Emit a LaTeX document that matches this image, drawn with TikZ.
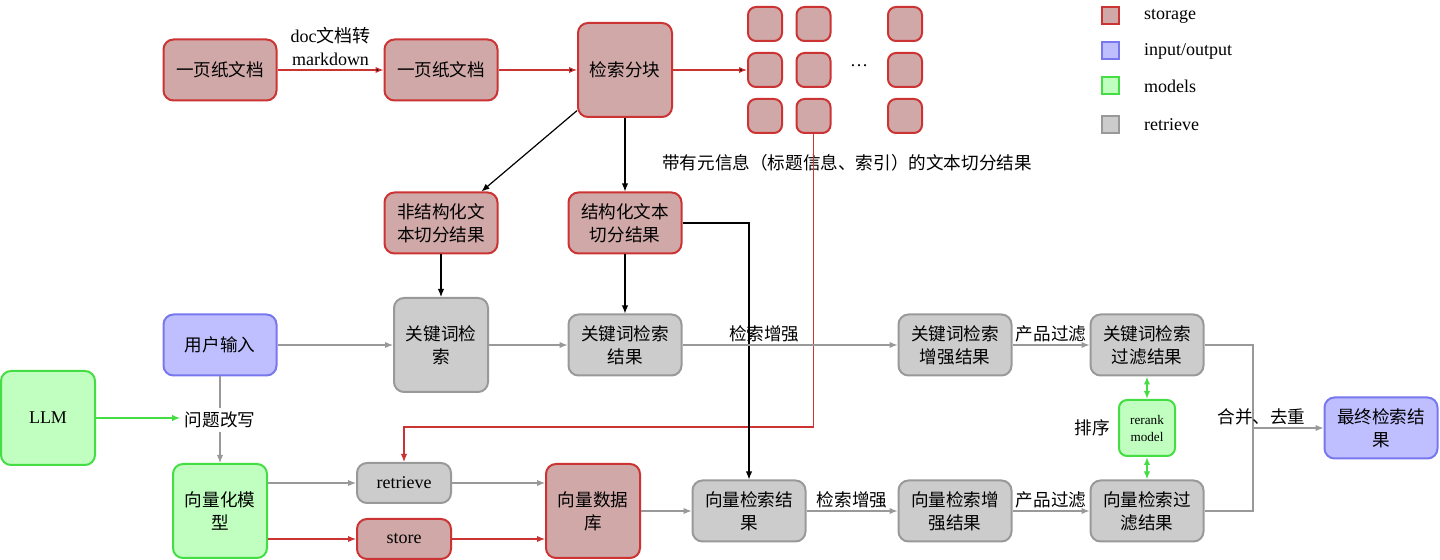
\documentclass[tikz,border=0pt]{standalone}
\usepackage{fontspec}
\setmainfont{Liberation Serif}
\newfontfamily\zh{Noto Sans CJK SC}
\usetikzlibrary{arrows.meta,positioning,calc}
\newcommand\zhfont{\fontsize{8.8}{11.5}\selectfont\zh}
\newcommand\enfont{\fontsize{9}{11.5}\selectfont\rmfamily}
\definecolor{stofill}{RGB}{208,168,168}
\definecolor{stoline}{RGB}{204,51,51}
\definecolor{iofill}{RGB}{191,191,255}
\definecolor{ioline}{RGB}{119,119,238}
\definecolor{mdlfill}{RGB}{192,255,192}
\definecolor{mdlline}{RGB}{68,221,68}
\definecolor{retfill}{RGB}{204,204,204}
\definecolor{retline}{RGB}{153,153,153}
\tikzset{
  box/.style  = { draw, line width=1pt, rounded corners=5pt, align=center, inner sep=1pt, font=\zhfont },
  sto/.style  = { box, draw=stoline, fill=stofill },
  io/.style   = { box, draw=ioline, fill=iofill },
  mdl/.style  = { box, draw=mdlline, fill=mdlfill },
  ret/.style  = { box, draw=retline, fill=retfill },
  wide/.style = { minimum width=56.5pt, minimum height=30.5pt },
  tall/.style = { minimum width=47pt, minimum height=47pt },
  flat/.style = { minimum width=47pt, minimum height=20pt },
  cell/.style = { sto, minimum width=17pt, minimum height=17pt, rounded corners=4pt },
  key/.style  = { draw, line width=1pt, minimum width=8.5pt, minimum height=8.5pt, inner sep=0pt },
  lbl/.style  = { font=\zhfont, inner sep=1pt },
  rline/.style = { draw=stoline, line width=0.6pt },
  gline/.style = { draw=retline, line width=0.6pt },
  bline/.style = { draw=black, line width=0.6pt },
  mline/.style = { draw=mdlline, line width=0.8pt }
}
\begin{document}
\begin{tikzpicture}[x=0.5pt,y=-0.5pt,>={Latex[length=4pt,width=3.2pt]}]
  \useasboundingbox (0,0) rectangle (1440,560);
  % documents and chunks
  \node[sto, wide] (doc1) at (220,70) {一页纸文档};
  \node[sto, wide] (doc2) at (441,70) {一页纸文档};
  \node[sto, tall] (split) at (625,70) {检索分块};
  \foreach \c/\x in {1/765,2/813.5,3/905}
    \foreach \r/\y in {1/24,2/70,3/116}
      \node[cell] (g\c\r) at (\x,\y) {};
  \node[font=\enfont] (dots) at (859,66) {\ldots};
  \node[lbl] (meta) at (847,163) {带有元信息（标题信息、索引）的文本切分结果};
  \node[sto, wide] (unstr) at (441,223) {非结构化文\\本切分结果};
  \node[sto, wide] (struct) at (625,223) {结构化文本\\切分结果};
  % keyword branch
  \node[io, wide] (user) at (220,345) {用户输入};
  \node[ret, tall] (kwsearch) at (441,345) {关键词检\\索};
  \node[ret, wide] (kwres) at (625,345) {关键词检索\\结果};
  \node[ret, wide] (kwenh) at (955,345) {关键词检索\\增强结果};
  \node[ret, wide] (kwfilt) at (1147,345) {关键词检索\\过滤结果};
  % vector branch
  \node[mdl, tall, font=\enfont] (llm) at (48,418) {LLM};
  \node[mdl, tall] (vecmodel) at (220,511) {向量化模\\型};
  \node[ret, flat, font=\enfont] (retrieve) at (404,483) {retrieve};
  \node[sto, flat, font=\enfont] (store) at (404,539) {store};
  \node[sto, tall] (vecdb) at (593,511) {向量数据\\库};
  \node[ret, wide] (vecres) at (749,511) {向量检索结\\果};
  \node[ret, wide] (vecenh) at (955,511) {向量检索增\\强结果};
  \node[ret, wide] (vecfilt) at (1147,511) {向量检索过\\滤结果};
  \node[mdl, minimum width=28pt, minimum height=28pt, rounded corners=4pt,
    font=\fontsize{6.6}{8.5}\selectfont\rmfamily] (rerank) at (1147,428) {rerank\\model};
  \node[lbl, left=3pt of rerank] (sortlbl) {排序};
  \node[io, wide] (final) at (1381,428) {最终检索结\\果};
  \coordinate (rbend) at (813.5,427);
  \coordinate (mrg) at (1253,428);
  % legend
  \foreach \k/\y/\t in {sto/16/storage, io/51/input\slash output, mdl/86/models, ret/125/retrieve} {
    \node[key, draw=\k line, fill=\k fill] (key\k) at (1110,\y) {};
    \node[font=\enfont, anchor=west] (txt\k) at (1137,\y) {\t};
  }
  % connectors
  \path[rline,->] (doc1) edge node[above, font=\enfont, align=center, inner sep=2pt] {doc{\zh 文档转}\\markdown} (doc2);
  \path[rline,->] (doc2) edge (split);
  \path[rline,->] (split) edge (g12);
  \draw[rline,->] (g23.south) -- (rbend) -| (retrieve.north);
  \draw[bline,->] (split) -- ([xshift=-8.5pt]unstr.north east);
  \draw[bline,->] (split) -- (struct);
  \draw[bline,->] (struct.east) -| (vecres.north);
  \draw[bline,->] (unstr) -- (kwsearch);
  \draw[bline,->] (struct) -- (kwres);
  \draw[gline,->] (user) -- (kwsearch);
  \draw[gline,->] (kwsearch) -- (kwres);
  \draw[gline,->] (kwres) -- node[lbl, above, pos=0.38] {检索增强} (kwenh);
  \draw[gline,->] (kwenh) -- node[lbl, above, pos=0.5] {产品过滤} (kwfilt);
  \draw[gline,->] (user) -- node[lbl, fill=white, inner sep=2pt] (rewrite) {问题改写} (vecmodel);
  \draw[mline,->] (llm) -- (llm -| rewrite.west);
  \draw[gline,->] (vecmodel.east |- retrieve.west) -- (retrieve.west);
  \draw[rline,->] (vecmodel.east |- store.west) -- (store.west);
  \draw[gline,->] (retrieve.east) -- (retrieve.east -| vecdb.west);
  \draw[rline,->] (store.east) -- (store.east -| vecdb.west);
  \draw[gline,->] (vecdb) -- (vecres);
  \draw[gline,->] (vecres) -- node[lbl, above] {检索增强} (vecenh);
  \draw[gline,->] (vecenh) -- node[lbl, above] {产品过滤} (vecfilt);
  \draw[mline,<->] (kwfilt) -- (rerank);
  \draw[mline,<->] (rerank) -- (vecfilt);
  \draw[gline] (kwfilt.east) -| (mrg) |- (vecfilt.east);
  \draw[gline,->] (mrg) -- node[lbl, above, pos=0.12] {合并、去重} (final);
\end{tikzpicture}
\end{document}
